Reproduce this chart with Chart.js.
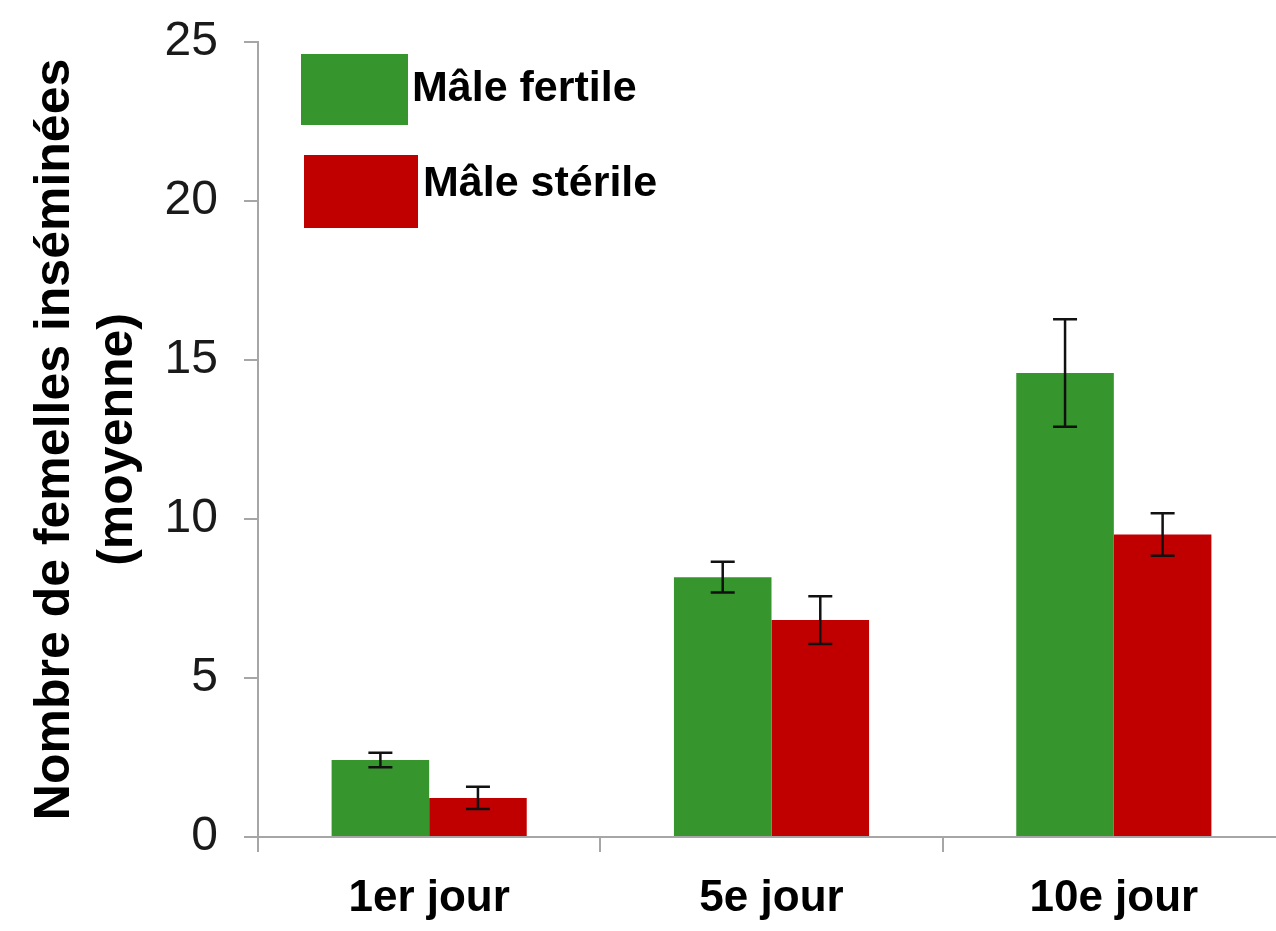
<!DOCTYPE html>
<html lang="fr">
<head>
  <meta charset="UTF-8" />
  <title>Femelles inséminées</title>
  <script src="https://cdn.jsdelivr.net/npm/chart.js"></script>
  <style>
    html, body { margin: 0; padding: 0; background: #fff; overflow: hidden; }
    #wrap { width: 1285px; height: 931px; }
  </style>
</head>
<body>
  <div id="wrap"><canvas id="chart"></canvas></div>

  <script>
    const jours = ['1er jour', '5e jour', '10e jour'];
    const fertile = [2.42, 8.17, 14.59];
    const fertileErr = [0.23, 0.48, 1.69];
    const sterile = [1.23, 6.82, 9.51];
    const sterileErr = [0.35, 0.75, 0.67];
    const yTicks = [0, 5, 10, 15, 20, 25];

    const axisGray = '#a6a6a6';

    // barres d'erreur dessinées avec l'échelle y du graphique
    const errorBars = {
      id: 'errorBars',
      afterDatasetsDraw(chart) {
        const ctx = chart.ctx;
        const y = chart.scales.y;
        ctx.save();
        ctx.strokeStyle = '#111';
        ctx.lineWidth = 2.5;
        chart.data.datasets.forEach((ds, i) => {
          chart.getDatasetMeta(i).data.forEach((bar, j) => {
            const v = ds.data[j], e = ds.errors[j];
            const top = y.getPixelForValue(v + e);
            const bot = y.getPixelForValue(v - e);
            ctx.beginPath();
            ctx.moveTo(bar.x, top); ctx.lineTo(bar.x, bot);
            ctx.moveTo(bar.x - 12, top); ctx.lineTo(bar.x + 12, top);
            ctx.moveTo(bar.x - 12, bot); ctx.lineTo(bar.x + 12, bot);
            ctx.stroke();
          });
        });
        ctx.restore();
      }
    };

    // légende à la manière du graphique d'origine
    const legendBoxes = {
      id: 'legendBoxes',
      afterDraw(chart) {
        const ctx = chart.ctx;
        const items = [
          { box: [301, 54, 107, 71], text: [412, 101] },
          { box: [304, 155, 114, 73], text: [423, 196] }
        ];
        ctx.save();
        ctx.font = 'bold 43px "Liberation Sans", Arial, sans-serif';
        ctx.textBaseline = 'alphabetic';
        chart.data.datasets.forEach((ds, i) => {
          const it = items[i];
          ctx.fillStyle = ds.backgroundColor;
          ctx.fillRect(...it.box);
          ctx.fillStyle = '#000';
          ctx.fillText(ds.label, it.text[0], it.text[1]);
        });
        ctx.restore();
      }
    };

    new Chart(document.getElementById('chart'), {
      type: 'bar',
      data: {
        labels: jours,
        datasets: [
          { label: 'Mâle fertile', data: fertile, errors: fertileErr, backgroundColor: '#36952d',
            categoryPercentage: 0.57, barPercentage: 1.0 },
          { label: 'Mâle stérile', data: sterile, errors: sterileErr, backgroundColor: '#c00000',
            categoryPercentage: 0.57, barPercentage: 1.0 }
        ]
      },
      options: {
        responsive: true,
        maintainAspectRatio: false,
        animation: false,
        layout: { padding: { top: 20, left: 0, right: 0, bottom: 0 } },
        plugins: {
          legend: { display: false },
          tooltip: { enabled: false }
        },
        scales: {
          x: {
            grid: { offset: true, drawOnChartArea: false, drawTicks: true, tickLength: 15, color: axisGray, lineWidth: 2 },
            border: { color: axisGray, width: 2 },
            ticks: { color: '#000', padding: 20, font: { family: '"Liberation Sans", Arial, sans-serif', size: 44, weight: 'bold' } },
            afterFit(scale) { scale.height = 94; }
          },
          y: {
            min: 0,
            max: 25,
            afterBuildTicks(scale) { scale.ticks = yTicks.map(v => ({ value: v })); },
            grid: { drawOnChartArea: false, drawTicks: true, tickLength: 14, color: axisGray, lineWidth: 2 },
            border: { color: axisGray, width: 2 },
            ticks: { color: '#1a1a1a', padding: 26, font: { family: '"Liberation Sans", Arial, sans-serif', size: 48, lineHeight: 0.66 } },
            title: {
              display: true,
              text: ['Nombre de femelles inséminées', '(moyenne)'],
              color: '#000',
              padding: { top: 24, bottom: 0 },
              font: { family: '"Liberation Sans", Arial, sans-serif', size: 50, weight: 'bold', lineHeight: 1.25 }
            },
            afterFit(scale) { scale.width = 258; }
          }
        }
      },
      plugins: [errorBars, legendBoxes]
    });
  </script>
</body>
</html>
